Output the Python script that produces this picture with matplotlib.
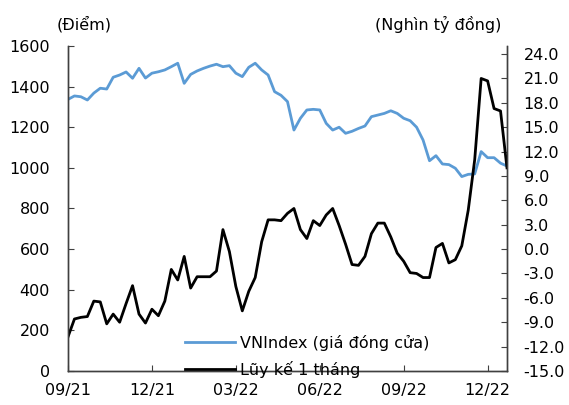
import numpy as np
import matplotlib.pyplot as plt

# weekly data, 09/2021 -> 01/2023
vnindex = [1337, 1354, 1350, 1334, 1368, 1392, 1388, 1446, 1457, 1472,
           1441, 1490, 1442, 1466, 1473, 1482, 1498, 1515, 1416, 1460,
           1477, 1490, 1501, 1510, 1498, 1503, 1466, 1449, 1495, 1515,
           1482, 1457, 1375, 1357, 1326, 1186, 1244, 1285, 1288, 1285,
           1219, 1186, 1200, 1170, 1180, 1194, 1206, 1252, 1260, 1268,
           1281, 1268, 1244, 1232, 1200, 1137, 1035, 1060, 1019, 1016,
           998, 957, 968, 970, 1080, 1050, 1050, 1023, 1009]
luy_ke = [-10.8, -8.6, -8.4, -8.3, -6.4, -6.5, -9.2, -8.0, -9.0, -6.7,
          -4.5, -8.0, -9.1, -7.4, -8.2, -6.4, -2.5, -3.8, -0.9, -4.8,
          -3.4, -3.4, -3.4, -2.7, 2.4, -0.3, -4.6, -7.6, -5.2, -3.5,
          0.9, 3.6, 3.6, 3.5, 4.4, 5.0, 2.4, 1.3, 3.5, 2.9,
          4.2, 5.0, 2.9, 0.6, -1.9, -2.0, -0.9, 1.9, 3.2, 3.2,
          1.5, -0.5, -1.5, -2.9, -3.0, -3.5, -3.5, 0.2, 0.7, -1.7,
          -1.3, 0.4, 4.8, 11.0, 21.0, 20.7, 17.3, 17.0, 10.0]
tick_pos = [0, 13, 26, 39, 52, 65]
tick_labels = ['09/21', '12/21', '03/22', '06/22', '09/22', '12/22']

plt.rcParams['font.family'] = 'DejaVu Sans'
plt.rcParams['font.size'] = 11.5

fig = plt.figure(figsize=(5.69, 4.05), dpi=100)
ax = fig.add_axes([0.1195, 0.084, 0.7715, 0.8025])
ax2 = ax.twinx()

x = np.arange(len(vnindex))
l1, = ax.plot(x, vnindex, color='#5B9BD5', lw=2.0, label='VNIndex (giá đóng cửa)')
l2, = ax2.plot(x, luy_ke, color='black', lw=2.0, label='Lũy kế 1 tháng')

ax.set_xlim(0, len(vnindex) - 1)
ax.set_ylim(0, 1600)
ax.set_yticks(range(0, 1601, 200))
ax2.set_ylim(-15, 25)
ax2.set_yticks(np.arange(-15, 25, 3))
ax2.set_yticklabels(['%.1f' % v for v in np.arange(-15, 25, 3)])
ax.set_xticks(tick_pos)
ax.set_xticklabels(tick_labels)

for a in (ax, ax2):
    a.spines['top'].set_visible(False)
    for s in a.spines.values():
        s.set_color('#404040')
        s.set_linewidth(1.0)
ax.tick_params(axis='y', direction='in', length=4, pad=13, colors='#404040', labelcolor='black')
ax.tick_params(axis='x', direction='in', length=4, pad=9, colors='#404040', labelcolor='black')
ax2.tick_params(axis='y', direction='in', length=4, pad=12, colors='#404040', labelcolor='black')

fig.text(84 / 569, 1 - 24 / 405, '(Điểm)', ha='center', va='center')
fig.text(438 / 569, 1 - 24 / 405, '(Nghìn tỷ đồng)', ha='center', va='center')

fig.legend([l1, l2], [l1.get_label(), l2.get_label()], loc='upper left',
           bbox_to_anchor=(185 / 569, 1 - 335 / 405), frameon=False,
           handlelength=3.1, handletextpad=0.35, labelspacing=0.6,
           borderaxespad=0, borderpad=0)

fig.savefig('out.png', dpi=100)
